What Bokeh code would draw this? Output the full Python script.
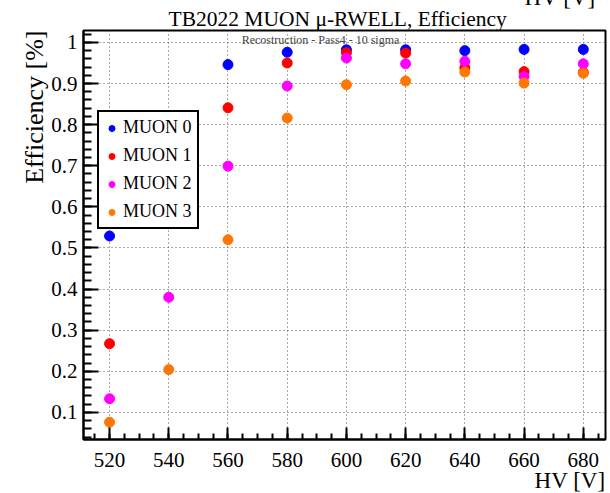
import math
from bokeh.plotting import figure
from bokeh.models import Label, Title, Range1d, SingleIntervalTicker, CustomJSTickFormatter
from bokeh.embed import file_html
from bokeh.resources import INLINE

nan = float("nan")
hv = [520, 540, 560, 580, 600, 620, 640, 660, 680]
muon0 = [0.529, nan, 0.946, 0.976, 0.982, 0.982, 0.980, 0.983, 0.983]
muon1 = [0.267, nan, 0.841, 0.950, 0.975, 0.974, 0.938, 0.929, 0.927]
muon2 = [0.133, 0.380, 0.699, 0.894, 0.962, 0.948, 0.954, 0.917, 0.948]
muon3 = [0.076, 0.204, 0.520, 0.816, 0.897, 0.906, 0.928, 0.901, 0.925]
series_names = ["MUON 0", "MUON 1", "MUON 2", "MUON 3"]
colors = ["#0000ff", "#ff0000", "#ff00ff", "#ff7700"]

title_text = "TB2022 MUON \u03bc-RWELL, Efficiency"
subtitle_text = "Recostruction - Pass4 - 10 sigma"
xtitle = "HV [V]"
ytitle = "Efficiency [%]"

SERIF = "Liberation Serif"
TOP_HIDDEN = 20  # canvas rows above the window top (for the cut-off text)

p = figure(width=610, height=493 + TOP_HIDDEN, output_backend="svg", toolbar_location=None,
           x_range=Range1d(511.2, 687.5), y_range=Range1d(0.034, 1.029),
           min_border_left=83, min_border_right=5, min_border_top=30 + TOP_HIDDEN,
           min_border_bottom=54, title=None)
p.margin = (-TOP_HIDDEN, 0, 0, 0)
p.background_fill_color = "white"
p.border_fill_color = "white"
p.outline_line_color = "black"
p.outline_line_width = 2

for ys, name, c in zip([muon0, muon1, muon2, muon3], series_names, colors):
    p.scatter(hv, ys, size=10, color=c, line_color=c, legend_label=name)

xt = SingleIntervalTicker(interval=20, num_minor_ticks=4)
yt = SingleIntervalTicker(interval=0.1, num_minor_ticks=5)
p.xaxis.ticker = xt
p.yaxis.ticker = yt
p.xgrid.ticker = xt
p.ygrid.ticker = yt
p.yaxis.formatter = CustomJSTickFormatter(code="return Math.abs(tick-1)<1e-9 ? '1' : tick.toFixed(1);")

for ax in (p.xaxis[0], p.yaxis[0]):
    ax.axis_line_width = 2
    ax.axis_line_color = "black"
    ax.major_tick_out = 0
    ax.minor_tick_out = 0
    ax.major_tick_line_width = 2
    ax.minor_tick_line_width = 2
    ax.major_label_text_font = SERIF
    ax.major_label_text_font_size = "21px"
    ax.major_label_text_color = "black"
p.xaxis.major_tick_in = 12
p.xaxis.minor_tick_in = 6
p.yaxis.major_tick_in = 15
p.yaxis.minor_tick_in = 8
p.xaxis.major_label_standoff = 13
p.yaxis.major_label_standoff = 6

for g in (p.xgrid[0], p.ygrid[0]):
    g.grid_line_color = "#555555"
    g.grid_line_dash = "1 3"
    g.grid_line_width = 1

lg = p.legend[0]
lg.location = (14, 210)
lg.border_line_color = "black"
lg.border_line_alpha = 1
lg.border_line_width = 2
lg.background_fill_color = "white"
lg.background_fill_alpha = 1
lg.label_text_font = SERIF
lg.label_text_font_size = "18px"
lg.label_text_color = "black"
lg.padding = 5
lg.spacing = 7
lg.margin = 0
lg.label_height = 20
lg.glyph_height = 20
lg.glyph_width = 15
lg.label_standoff = 4

# subtitle inside the frame (frame-relative screen units)
p.add_layout(Label(x=237, y=400, x_units="screen", y_units="screen", text=subtitle_text,
                   text_font=SERIF, text_font_size="12px", text_align="center",
                   text_baseline="middle"))

# titles in the side panels
p.add_layout(Title(text=title_text, align="left", offset=85, standoff=0,
                   text_font=SERIF, text_font_size="21.5px", text_font_style="normal",
                   text_color="black"), "above")
p.add_layout(Title(text=xtitle, align="right", offset=10, standoff=-10,
                   text_font=SERIF, text_font_size="23px", text_font_style="normal",
                   text_color="black"), "above")
p.add_layout(Title(text=xtitle, align="right", offset=0, standoff=-8, vertical_align="bottom",
                   text_font=SERIF, text_font_size="23px", text_font_style="normal",
                   text_color="black"), "below")
p.add_layout(Title(text=ytitle, align="right", text_font=SERIF, text_font_size="26px",
                   text_font_style="normal", text_color="black", standoff=0, offset=0),
             "left")

open("out.html", "w").write(file_html(p, INLINE))
